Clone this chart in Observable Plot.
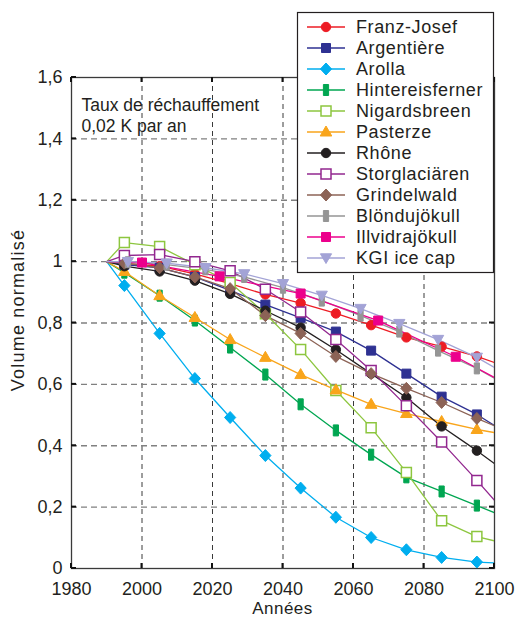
<!DOCTYPE html>
<html><head><meta charset="utf-8">
<script src="https://cdn.jsdelivr.net/npm/d3@7"></script>
<script src="https://cdn.jsdelivr.net/npm/@observablehq/plot@0.6"></script>
<style>body{margin:0;background:#fff} svg{display:block}</style>
</head><body><div id="chart"></div>
<script>
const names = ["Franz-Josef","Argentière","Arolla","Hintereisferner","Nigardsbreen","Pasterze","Rhône","Storglaciären","Grindelwald","Blöndujökull","Illvidrajökull","KGI ice cap"];
const colors = ["#ed1c24","#2e3192","#00aeef","#00a651","#8dc63f","#f9a51b","#231f20","#92278f","#8c6356","#959595","#ec008c","#a3a3d6"];

const years10 = [1990,1995,2005,2015,2025,2035,2045,2055,2065,2075,2085,2095,2100];
const years11 = [1990,1996,2007,2018,2029,2040,2051,2062,2073,2084,2095,2100];
const years22 = [1990,2000,2022,2045,2067,2089,2100];

const franzJosef      = [1,0.995,0.985,0.96,0.928,0.893,0.865,0.831,0.793,0.753,0.723,0.691,0.671];
const argentiere      = [1,0.99,0.98,0.95,0.906,0.86,0.817,0.772,0.71,0.635,0.56,0.502,0.466];
const arolla          = [1,0.922,0.766,0.619,0.492,0.368,0.262,0.167,0.101,0.061,0.036,0.021,0.018];
const hintereisferner = [1,0.964,0.889,0.808,0.72,0.632,0.535,0.45,0.371,0.297,0.251,0.205,0.182];
const nigardsbreen    = [1,1.062,1.049,0.99,0.932,0.83,0.714,0.58,0.459,0.313,0.156,0.104,0.09];
const pasterze        = [1,0.968,0.889,0.818,0.746,0.688,0.632,0.582,0.535,0.505,0.479,0.453,0.443];
const rhone           = [1,0.985,0.968,0.938,0.895,0.84,0.785,0.713,0.635,0.557,0.463,0.384,0.342];
const storglaciaren   = [1,1.02,1.023,1.0,0.97,0.91,0.836,0.746,0.645,0.53,0.412,0.287,0.222];
const grindelwald     = [1,0.995,0.98,0.95,0.912,0.824,0.766,0.691,0.635,0.587,0.541,0.489,0.465];
const blondujokull    = [1,0.998,0.99,0.975,0.95,0.915,0.873,0.824,0.772,0.71,0.652,0.62];
const illvidrajokull  = [1,0.997,0.952,0.896,0.808,0.69,0.622];
const kgiIceCap       = [1,1.0,0.995,0.98,0.96,0.928,0.89,0.847,0.798,0.746,0.688,0.655];

const seriesValues = [franzJosef,argentiere,arolla,hintereisferner,nigardsbreen,pasterze,rhone,storglaciaren,grindelwald,blondujokull,illvidrajokull,kgiIceCap];
const seriesYears  = [years10,years10,years10,years10,years10,years10,years10,years10,years10,years11,years22,years11];

const xTicks = [1980,2000,2020,2040,2060,2080,2100];
const yTicks = [0,0.2,0.4,0.6,0.8,1,1.2,1.4,1.6];
const xGrid = [2000,2020,2040,2060,2080];
const yGrid = [0.2,0.4,0.6,0.8,1,1.2,1.4];

const annotationLines = ["Taux de réchauffement", "0,02 K par an"];
const xLabel = "Années";
const yLabel = "Volume normalisé";

// marker shapes
const sym = {
  circle:{draw(c){c.moveTo(4.7,0);c.arc(0,0,4.7,0,2*Math.PI);}},
  square:{draw(c){c.rect(-4.5,-4.5,9,9);}},
  diamond:{draw(c){c.moveTo(0,-6);c.lineTo(5.6,0);c.lineTo(0,6);c.lineTo(-5.6,0);c.closePath();}},
  bar:{draw(c){c.rect(-2.6,-5.5,5.2,11);}},
  openSquare:{draw(c){c.rect(-5,-5,10,10);}},
  triUp:{draw(c){c.moveTo(0,-6);c.lineTo(5.8,4);c.lineTo(-5.8,4);c.closePath();}},
  triDown:{draw(c){c.moveTo(0,5.5);c.lineTo(5.6,-4.2);c.lineTo(-5.6,-4.2);c.closePath();}}
};
const markerSpec = [
  {s:sym.circle, open:false},{s:sym.square, open:false},{s:sym.diamond, open:false},{s:sym.bar, open:false},
  {s:sym.openSquare, open:true},{s:sym.triUp, open:false},{s:sym.circle, open:false},{s:sym.openSquare, open:true},
  {s:sym.diamond, open:false},{s:sym.bar, open:false},{s:sym.square, open:false},{s:sym.triDown, open:false}
];

const rows = [];
names.forEach((n,i)=>{
  const ys = seriesYears[i], vs = seriesValues[i];
  ys.forEach((yr,j)=>rows.push({name:n, year:yr, value:vs[j], marker: j>0 && j<ys.length-1}));
});

const fmtY = d => String(Math.round(d*10)/10).replace(".", ",");
const ink = "#231f20";
const font = "'Liberation Sans', Arial, sans-serif";

const marks = [
  Plot.gridX(xGrid, {stroke:"#3a3a3a", strokeOpacity:1, strokeDasharray:"5,4", strokeWidth:1}),
  Plot.gridY(yGrid, {stroke:"#808080", strokeOpacity:1, strokeDasharray:"6,4", strokeWidth:1.4}),
  Plot.frame({stroke:"#3a3a3a", strokeWidth:1.3}),
  Plot.axisX({ticks:xTicks, anchor:"bottom", tickSize:0, tickPadding:14, tickFormat:d=>String(d), label:null, fill:ink}),
  Plot.axisY({ticks:yTicks, anchor:"left", tickSize:0, tickPadding:9, tickFormat:fmtY, label:null, fill:ink}),
  Plot.line(rows, {x:"year", y:"value", z:"name", stroke:"name", strokeWidth:1.3, clip:true}),
  ...names.map((n,i)=>Plot.dot(rows.filter(d=>d.name===n && d.marker), {
    x:"year", y:"value", symbol:markerSpec[i].s, r:4.5,
    fill: markerSpec[i].open ? "white" : colors[i], stroke: colors[i], strokeWidth: markerSpec[i].open ? 1.5 : 1
  })),
  Plot.text([annotationLines[0]], {frameAnchor:"top-left", dx:10, dy:21, lineAnchor:"top", textAnchor:"start", fill:ink, fontSize:17.5}),
  Plot.text([annotationLines[1]], {frameAnchor:"top-left", dx:10, dy:42, lineAnchor:"top", textAnchor:"start", fill:ink, fontSize:17.5})
];

const chart = Plot.plot({
  width:516, height:618,
  marginLeft:71, marginRight:22, marginTop:77, marginBottom:50,
  x:{domain:[1980,2100]},
  y:{domain:[0,1.6]},
  color:{domain:names, range:colors},
  style:{fontFamily:font, fontSize:"18px", color:ink, background:"#fff"},
  marks
});
document.getElementById("chart").appendChild(chart);

const svg = d3.select(chart);
const sx = chart.scale("x"), sy = chart.scale("y");
const x0 = sx.apply(1980), x1 = sx.apply(2100), y0 = sy.apply(0), y1 = sy.apply(1.6);

// inward ticks on all four sides
const tg = svg.append("g").attr("stroke","#111").attr("stroke-width",2);
xTicks.forEach(t=>{
  const x = sx.apply(t);
  tg.append("line").attr("x1",x).attr("x2",x).attr("y1",y0).attr("y2",y0-5);
  tg.append("line").attr("x1",x).attr("x2",x).attr("y1",y1).attr("y2",y1+5);
});
yTicks.forEach(t=>{
  const y = sy.apply(t);
  tg.append("line").attr("x1",x0).attr("x2",x0+5).attr("y1",y).attr("y2",y);
  tg.append("line").attr("x1",x1).attr("x2",x1-5).attr("y1",y).attr("y2",y);
});

// axis titles
svg.append("text").attr("x", (x0+x1)/2).attr("y", 614.3).attr("text-anchor","middle")
  .attr("fill", ink).style("font-size","17px").style("letter-spacing","0.5px").text(xLabel);
svg.append("text").attr("transform","translate(24,310) rotate(-90)").attr("text-anchor","middle")
  .attr("fill", ink).style("font-size","18px").style("letter-spacing","1.2px").text(yLabel);

// legend
const lg = svg.append("g");
lg.append("rect").attr("x",297.5).attr("y",12.5).attr("width",196).attr("height",260)
  .attr("fill","white").attr("stroke","#231f20").attr("stroke-width",1.2);
names.forEach((n,i)=>{
  const cy = 27 + i*21;
  lg.append("line").attr("x1",307).attr("x2",345).attr("y1",cy).attr("y2",cy)
    .attr("stroke",colors[i]).attr("stroke-width",1.4);
  lg.append("path").attr("transform",`translate(326,${cy})`)
    .attr("d", d3.symbol().type(markerSpec[i].s)())
    .attr("fill", markerSpec[i].open ? "white" : colors[i]).attr("stroke", colors[i])
    .attr("stroke-width", markerSpec[i].open ? 1.5 : 1);
  lg.append("text").attr("x",356).attr("y",cy).attr("dy","0.36em").attr("text-anchor","start")
    .attr("fill",ink).style("font-size","18px").style("letter-spacing","0.6px").text(n);
});
</script>
</body></html>
